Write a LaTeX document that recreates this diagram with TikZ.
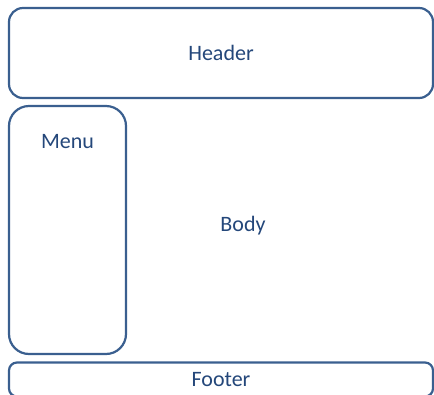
\documentclass[tikz,border=0pt]{standalone}
\usepackage{fontspec}
\setmainfont{Carlito}
\usetikzlibrary{positioning}
\definecolor{edgeb}{HTML}{3A5F8F}
\definecolor{textb}{HTML}{24477A}

\begin{document}
\begin{tikzpicture}[x=1pt, y=-1pt,
            part/.style={rectangle, draw = edgeb, line width=2.2pt, fill=white,
                text = textb, font=\fontsize{22}{26}\selectfont, inner sep=0pt}]
        \useasboundingbox (0,0) rectangle (434,394);
        \node[part, rounded corners=14pt, minimum width=424pt, minimum height=90pt] (header) at (221,53) {Header};
        \node[part, rounded corners=20pt, minimum width=117pt, minimum height=248pt,
            label={[text=textb, font=\fontsize{22}{26}\selectfont, anchor=center, yshift=-37pt]north:Menu}] (menu) at (67.5,230) {};
        \node[text = textb, font=\fontsize{22}{26}\selectfont] (body) at (243,226) {Body};
        \node[part, rounded corners=8pt, minimum width=424pt, minimum height=34pt] (footer) at (221,379.5) {Footer};
\end{tikzpicture}
\end{document}
